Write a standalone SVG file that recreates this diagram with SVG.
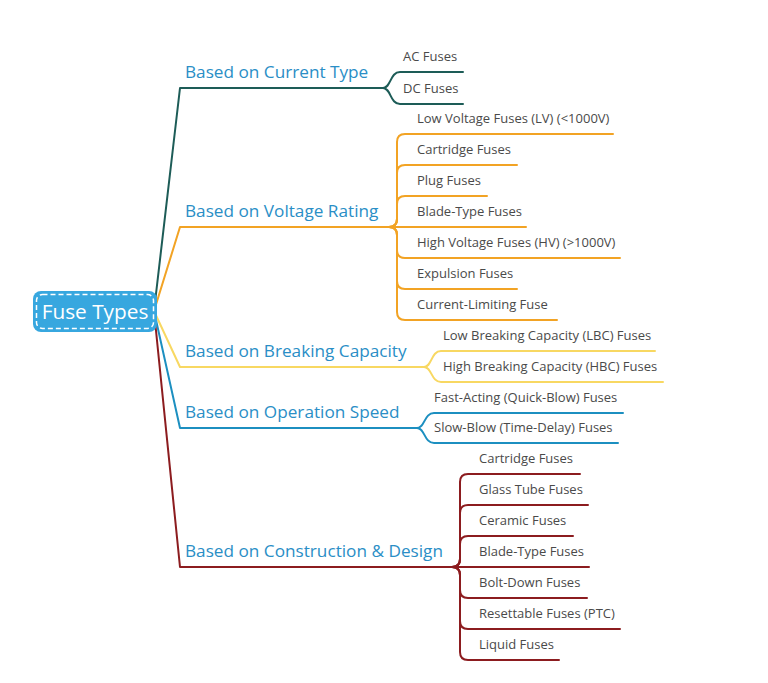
<svg xmlns="http://www.w3.org/2000/svg" width="768" height="683" viewBox="0 0 768 683">
<style>
.c{fill:none;stroke-width:2;stroke-linecap:round;stroke-linejoin:round}
.g{stroke:#1d5c57}.o{stroke:#f2a324}.y{stroke:#f8d862}.b{stroke:#1c8fc0}.r{stroke:#8c1c1f}
.bl{font-family:"Open Sans","Noto Sans",sans-serif;font-size:17.2px;fill:#2a8ec6}
.cl{font-family:"Open Sans","Noto Sans",sans-serif;font-size:13px;fill:#4a4a4a}
.rt{font-family:"Open Sans","Noto Sans",sans-serif;font-size:20.8px;fill:#fff}
</style>
<rect width="768" height="683" fill="#fff"/>
<g id="connectors">
<path class="c g" d="M154 311 L180 88 L383 88"/>
<path class="c g" d="M383 88 C391 88 390 72 400 72 L463 72"/>
<path class="c g" d="M383 88 C391 88 390 104 400 104 L463 104"/>
<path class="c o" d="M154 311 L180 227 L389 227"/>
<path class="c o" d="M389 227 Q397 227 397 219 L397 142 Q397 134 405 134 L613 134"/>
<path class="c o" d="M389 227 Q397 227 397 219 L397 173 Q397 165 405 165 L517 165"/>
<path class="c o" d="M389 227 Q397 227 397 219 L397 204 Q397 196 405 196 L487 196"/>
<path class="c o" d="M389 227 L526 227"/>
<path class="c o" d="M389 227 Q397 227 397 235 L397 250 Q397 258 405 258 L620 258"/>
<path class="c o" d="M389 227 Q397 227 397 235 L397 281 Q397 289 405 289 L517 289"/>
<path class="c o" d="M389 227 Q397 227 397 235 L397 312 Q397 320 405 320 L557 320"/>
<path class="c y" d="M154 311 L180 367 L424 367"/>
<path class="c y" d="M424 367 C432 367 431 351 441 351 L655 351"/>
<path class="c y" d="M424 367 C432 367 431 382 441 382 L663 382"/>
<path class="c b" d="M154 311 L180 428 L417 428"/>
<path class="c b" d="M417 428 C425 428 424 413 434 413 L623 413"/>
<path class="c b" d="M417 428 C425 428 424 443 434 443 L618 443"/>
<path class="c r" d="M154 311 L180 567 L452 567"/>
<path class="c r" d="M452 567 Q460 567 460 559 L460 482 Q460 474 468 474 L580 474"/>
<path class="c r" d="M452 567 Q460 567 460 559 L460 513 Q460 505 468 505 L588 505"/>
<path class="c r" d="M452 567 Q460 567 460 559 L460 544 Q460 536 468 536 L573 536"/>
<path class="c r" d="M452 567 L589 567"/>
<path class="c r" d="M452 567 Q460 567 460 575 L460 590 Q460 598 468 598 L587 598"/>
<path class="c r" d="M452 567 Q460 567 460 575 L460 621 Q460 629 468 629 L620 629"/>
<path class="c r" d="M452 567 Q460 567 460 575 L460 652 Q460 660 468 660 L559 660"/>
</g>
<g id="root">
<rect x="33" y="291" width="124" height="41" rx="8" fill="#37a7df"/>
<rect x="36.5" y="294.5" width="117" height="34" rx="6" fill="none" stroke="#fff" stroke-width="1.5" stroke-dasharray="5 3"/>
<text class="rt" x="95" y="319" text-anchor="middle">Fuse Types</text>
</g>
<g id="b1"><text class="bl" x="185" y="78">Based on Current Type</text></g>
<g id="b1c1"><text class="cl" x="403" y="61">AC Fuses</text></g>
<g id="b1c2"><text class="cl" x="403" y="93">DC Fuses</text></g>
<g id="b2"><text class="bl" x="185" y="217">Based on Voltage Rating</text></g>
<g id="b2c1"><text class="cl" x="417" y="123">Low Voltage Fuses (LV) (&lt;1000V)</text></g>
<g id="b2c2"><text class="cl" x="417" y="154">Cartridge Fuses</text></g>
<g id="b2c3"><text class="cl" x="417" y="185">Plug Fuses</text></g>
<g id="b2c4"><text class="cl" x="417" y="216">Blade-Type Fuses</text></g>
<g id="b2c5"><text class="cl" x="417" y="247">High Voltage Fuses (HV) (&gt;1000V)</text></g>
<g id="b2c6"><text class="cl" x="417" y="278">Expulsion Fuses</text></g>
<g id="b2c7"><text class="cl" x="417" y="309">Current-Limiting Fuse</text></g>
<g id="b3"><text class="bl" x="185" y="357">Based on Breaking Capacity</text></g>
<g id="b3c1"><text class="cl" x="443" y="340">Low Breaking Capacity (LBC) Fuses</text></g>
<g id="b3c2"><text class="cl" x="443" y="371">High Breaking Capacity (HBC) Fuses</text></g>
<g id="b4"><text class="bl" x="185" y="418">Based on Operation Speed</text></g>
<g id="b4c1"><text class="cl" x="434" y="402">Fast-Acting (Quick-Blow) Fuses</text></g>
<g id="b4c2"><text class="cl" x="434" y="432">Slow-Blow (Time-Delay) Fuses</text></g>
<g id="b5"><text class="bl" x="185" y="557">Based on Construction &amp; Design</text></g>
<g id="b5c1"><text class="cl" x="479" y="463">Cartridge Fuses</text></g>
<g id="b5c2"><text class="cl" x="479" y="494">Glass Tube Fuses</text></g>
<g id="b5c3"><text class="cl" x="479" y="525">Ceramic Fuses</text></g>
<g id="b5c4"><text class="cl" x="479" y="556">Blade-Type Fuses</text></g>
<g id="b5c5"><text class="cl" x="479" y="587">Bolt-Down Fuses</text></g>
<g id="b5c6"><text class="cl" x="479" y="618">Resettable Fuses (PTC)</text></g>
<g id="b5c7"><text class="cl" x="479" y="649">Liquid Fuses</text></g>
</svg>
